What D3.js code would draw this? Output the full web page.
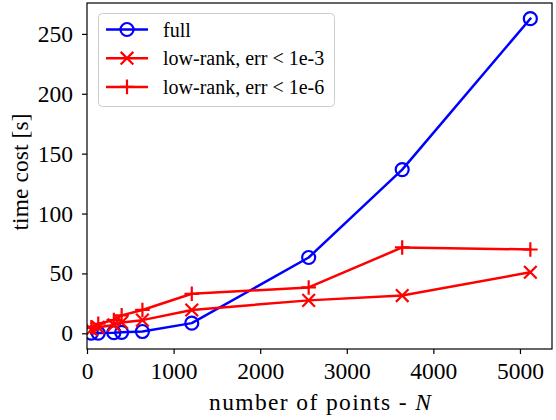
<!DOCTYPE html>
<html>
<head>
<meta charset="utf-8">
<script src="https://cdn.jsdelivr.net/npm/d3@7"></script>
<style>
html,body{margin:0;padding:0;background:#fff;}
svg{display:block;}
text{font-family:"Liberation Serif","DejaVu Serif",serif;}
</style>
</head>
<body>
<svg id="chart" width="556" height="420"></svg>
<script>
const nPoints = [50, 130, 310, 400, 640, 1210, 2560, 3640, 5120];
const fullCost = [0.1, 0.2, 0.5, 0.8, 1.5, 8.5, 63.3, 136.7, 262.7];
const lowRank3Cost = [3, 5, 7, 9, 11, 19.5, 27.5, 31.5, 51];
const lowRank6Cost = [5, 8, 11, 15, 19.5, 33, 38.3, 71.7, 70];
const seriesNames = ["full", "low-rank, err < 1e-3", "low-rank, err < 1e-6"];
const xTicks = [0, 1000, 2000, 3000, 4000, 5000];
const yTicks = [0, 50, 100, 150, 200, 250];

const series = [
  {name: seriesNames[0], values: fullCost, color: "#0000ff", marker: "circle"},
  {name: seriesNames[1], values: lowRank3Cost, color: "#ff0000", marker: "x"},
  {name: seriesNames[2], values: lowRank6Cost, color: "#ff0000", marker: "plus"}
];

const svg = d3.select("#chart");
const L = 87, R = 552, T = 3, B = 349;
const x = d3.scaleLinear().domain([0, 5370]).range([L, R]);
const y = d3.scaleLinear().domain([-13.1, 275.8]).range([B, T]);
const fs = 23.5;

// axes
const xAxis = svg.append("g").attr("transform", `translate(0,${B})`)
  .call(d3.axisBottom(x).tickValues(xTicks).tickSize(5).tickPadding(5).tickFormat(d3.format("d")));
const yAxis = svg.append("g").attr("transform", `translate(${L},0)`)
  .call(d3.axisLeft(y).tickValues(yTicks).tickSize(5).tickPadding(9).tickFormat(d3.format("d")));
[xAxis, yAxis].forEach(g => {
  g.select(".domain").remove();
  g.selectAll(".tick line").attr("stroke", "#000").attr("stroke-width", 1.2);
  g.selectAll(".tick text").attr("font-size", fs).attr("fill", "#000")
    .style("font-family", '"Liberation Serif","DejaVu Serif",serif');
});
xAxis.selectAll(".tick text").attr("dy", "0.85em");

// clip
svg.append("clipPath").attr("id", "clip").append("rect")
  .attr("x", L).attr("y", T).attr("width", R - L).attr("height", B - T);
const plot = svg.append("g").attr("clip-path", "url(#clip)");

const line = d3.line().x((d, i) => x(nPoints[i])).y(d => y(d));

function drawMarker(g, type, cx, cy, color) {
  if (type === "circle") {
    g.append("circle").attr("cx", cx).attr("cy", cy).attr("r", 6.5)
      .attr("fill", "none").attr("stroke", color).attr("stroke-width", 2.2);
  } else if (type === "x") {
    const s = 6.3;
    g.append("path").attr("d", `M${cx-s},${cy-s}L${cx+s},${cy+s}M${cx-s},${cy+s}L${cx+s},${cy-s}`)
      .attr("stroke", color).attr("stroke-width", 2.2).attr("fill", "none");
  } else {
    const s = 7.3;
    g.append("path").attr("d", `M${cx-s},${cy}L${cx+s},${cy}M${cx},${cy-s}L${cx},${cy+s}`)
      .attr("stroke", color).attr("stroke-width", 2.2).attr("fill", "none");
  }
}

series.forEach(s => {
  const g = plot.append("g");
  g.append("path").datum(s.values).attr("d", line)
    .attr("fill", "none").attr("stroke", s.color).attr("stroke-width", 2.5)
    .attr("stroke-linejoin", "round").attr("stroke-linecap", "square");
  s.values.forEach((v, i) => drawMarker(g, s.marker, x(nPoints[i]), y(v), s.color));
});

// frame
svg.append("rect").attr("x", L).attr("y", T).attr("width", R - L).attr("height", B - T)
  .attr("fill", "none").attr("stroke", "#000").attr("stroke-width", 1.2);

// legend
const lg = svg.append("g");
lg.append("rect").attr("x", 98.5).attr("y", 13.5).attr("width", 236).attr("height", 93)
  .attr("rx", 4).attr("fill", "#fff").attr("fill-opacity", 0.8)
  .attr("stroke", "#cccccc").attr("stroke-width", 1);
series.forEach((s, i) => {
  const yy = 29.5 + i * 28.7;
  lg.append("line").attr("x1", 106).attr("x2", 148).attr("y1", yy).attr("y2", yy)
    .attr("stroke", s.color).attr("stroke-width", 2.5);
  drawMarker(lg, s.marker, 127, yy, s.color);
  lg.append("text").attr("x", 163).attr("y", yy).attr("dy", "0.35em")
    .attr("font-size", 20).attr("fill", "#000").text(s.name);
});

// axis labels
const xl = svg.append("text").attr("x", 320).attr("y", 410)
  .attr("text-anchor", "middle").attr("font-size", fs).attr("fill", "#000")
  .attr("textLength", 222).attr("lengthAdjust", "spacing");
xl.append("tspan").text("number of points - ");
xl.append("tspan").attr("font-style", "italic").text("N");

svg.append("text").attr("transform", `translate(28,172) rotate(-90)`)
  .attr("text-anchor", "middle").attr("font-size", fs).attr("fill", "#000")
  .attr("textLength", 117).attr("lengthAdjust", "spacing")
  .text("time cost [s]");
</script>
</body>
</html>
